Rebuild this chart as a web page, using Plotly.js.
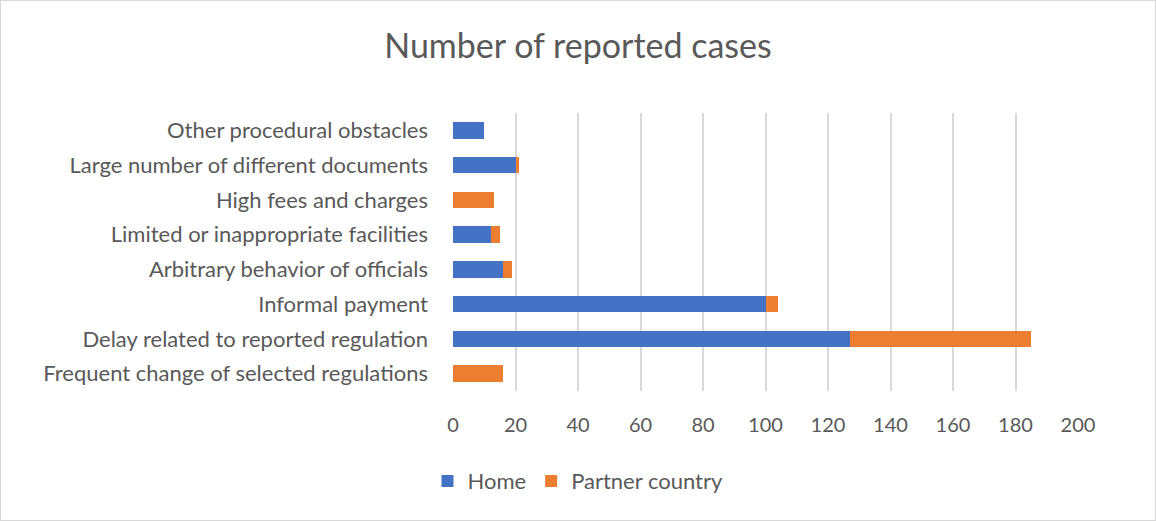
<!DOCTYPE html>
<html>
<head>
<meta charset="utf-8">
<script src="https://cdn.plot.ly/plotly-3.0.1.min.js"></script>
<style>
  html, body { margin: 0; padding: 0; background: #fff; }
  #chart { width: 1154px; height: 519px; border: 1px solid #d9d9d9; }
</style>
</head>
<body>
<div id="chart"></div>
<script>
// Categories listed bottom to top (Plotly draws first category at bottom)
const categories = [
  "Frequent change of selected regulations",
  "Delay related to reported regulation",
  "Informal payment",
  "Arbitrary behavior of officials",
  "Limited or inappropriate facilities",
  "High fees and charges",
  "Large number of different documents",
  "Other procedural obstacles"
];
const homeValues    = [0, 127, 100, 16, 12, 0, 20, 10];
const partnerValues = [16, 58, 4, 3, 3, 13, 1, 0];
const xTicks = [0, 20, 40, 60, 80, 100, 120, 140, 160, 180, 200];

const textColor = "#595959";
const fontFamily = "Lato, 'Open Sans', sans-serif";

const traces = [
  {
    type: "bar", orientation: "h", name: "Home",
    y: categories, x: homeValues,
    marker: { color: "#4472C4" },
    hoverinfo: "x+y+name"
  },
  {
    type: "bar", orientation: "h", name: "Partner country",
    y: categories, x: partnerValues,
    marker: { color: "#ED7D31" },
    hoverinfo: "x+y+name"
  }
];

const layout = {
  width: 1154, height: 519,
  paper_bgcolor: "#ffffff", plot_bgcolor: "#ffffff",
  font: { family: fontFamily, color: textColor, size: 22 },
  barmode: "stack",
  bargap: 0.52,
  margin: { l: 452, r: 77, t: 112, b: 129, pad: 0 },
  title: {
    text: "Number of reported cases",
    font: { family: fontFamily, size: 34, color: textColor },
    xref: "container", x: 0.5, xanchor: "center",
    yref: "container", y: 0.914, yanchor: "middle"
  },
  xaxis: {
    range: [0, 200],
    tickvals: xTicks,
    ticktext: xTicks.map(String),
    showgrid: true, gridcolor: "#d9d9d9", gridwidth: 2,
    zeroline: false, showline: false,
    ticks: "", ticklabelstandoff: 20,
    tickfont: { size: 20, color: textColor },
    fixedrange: true
  },
  yaxis: {
    type: "category",
    categoryorder: "array", categoryarray: categories,
    showgrid: false, zeroline: false, showline: false,
    ticks: "", ticklabelstandoff: 24,
    tickfont: { size: 22, color: textColor },
    fixedrange: true
  },
  showlegend: true,
  legend: {
    orientation: "h",
    xref: "container", x: 0.5, xanchor: "center",
    yref: "container", y: 0.075, yanchor: "middle",
    font: { size: 22, color: textColor },
    traceorder: "normal",
    itemwidth: 30
  }
};

Plotly.newPlot("chart", traces, layout, { displayModeBar: false, staticPlot: true });
</script>
</body>
</html>
